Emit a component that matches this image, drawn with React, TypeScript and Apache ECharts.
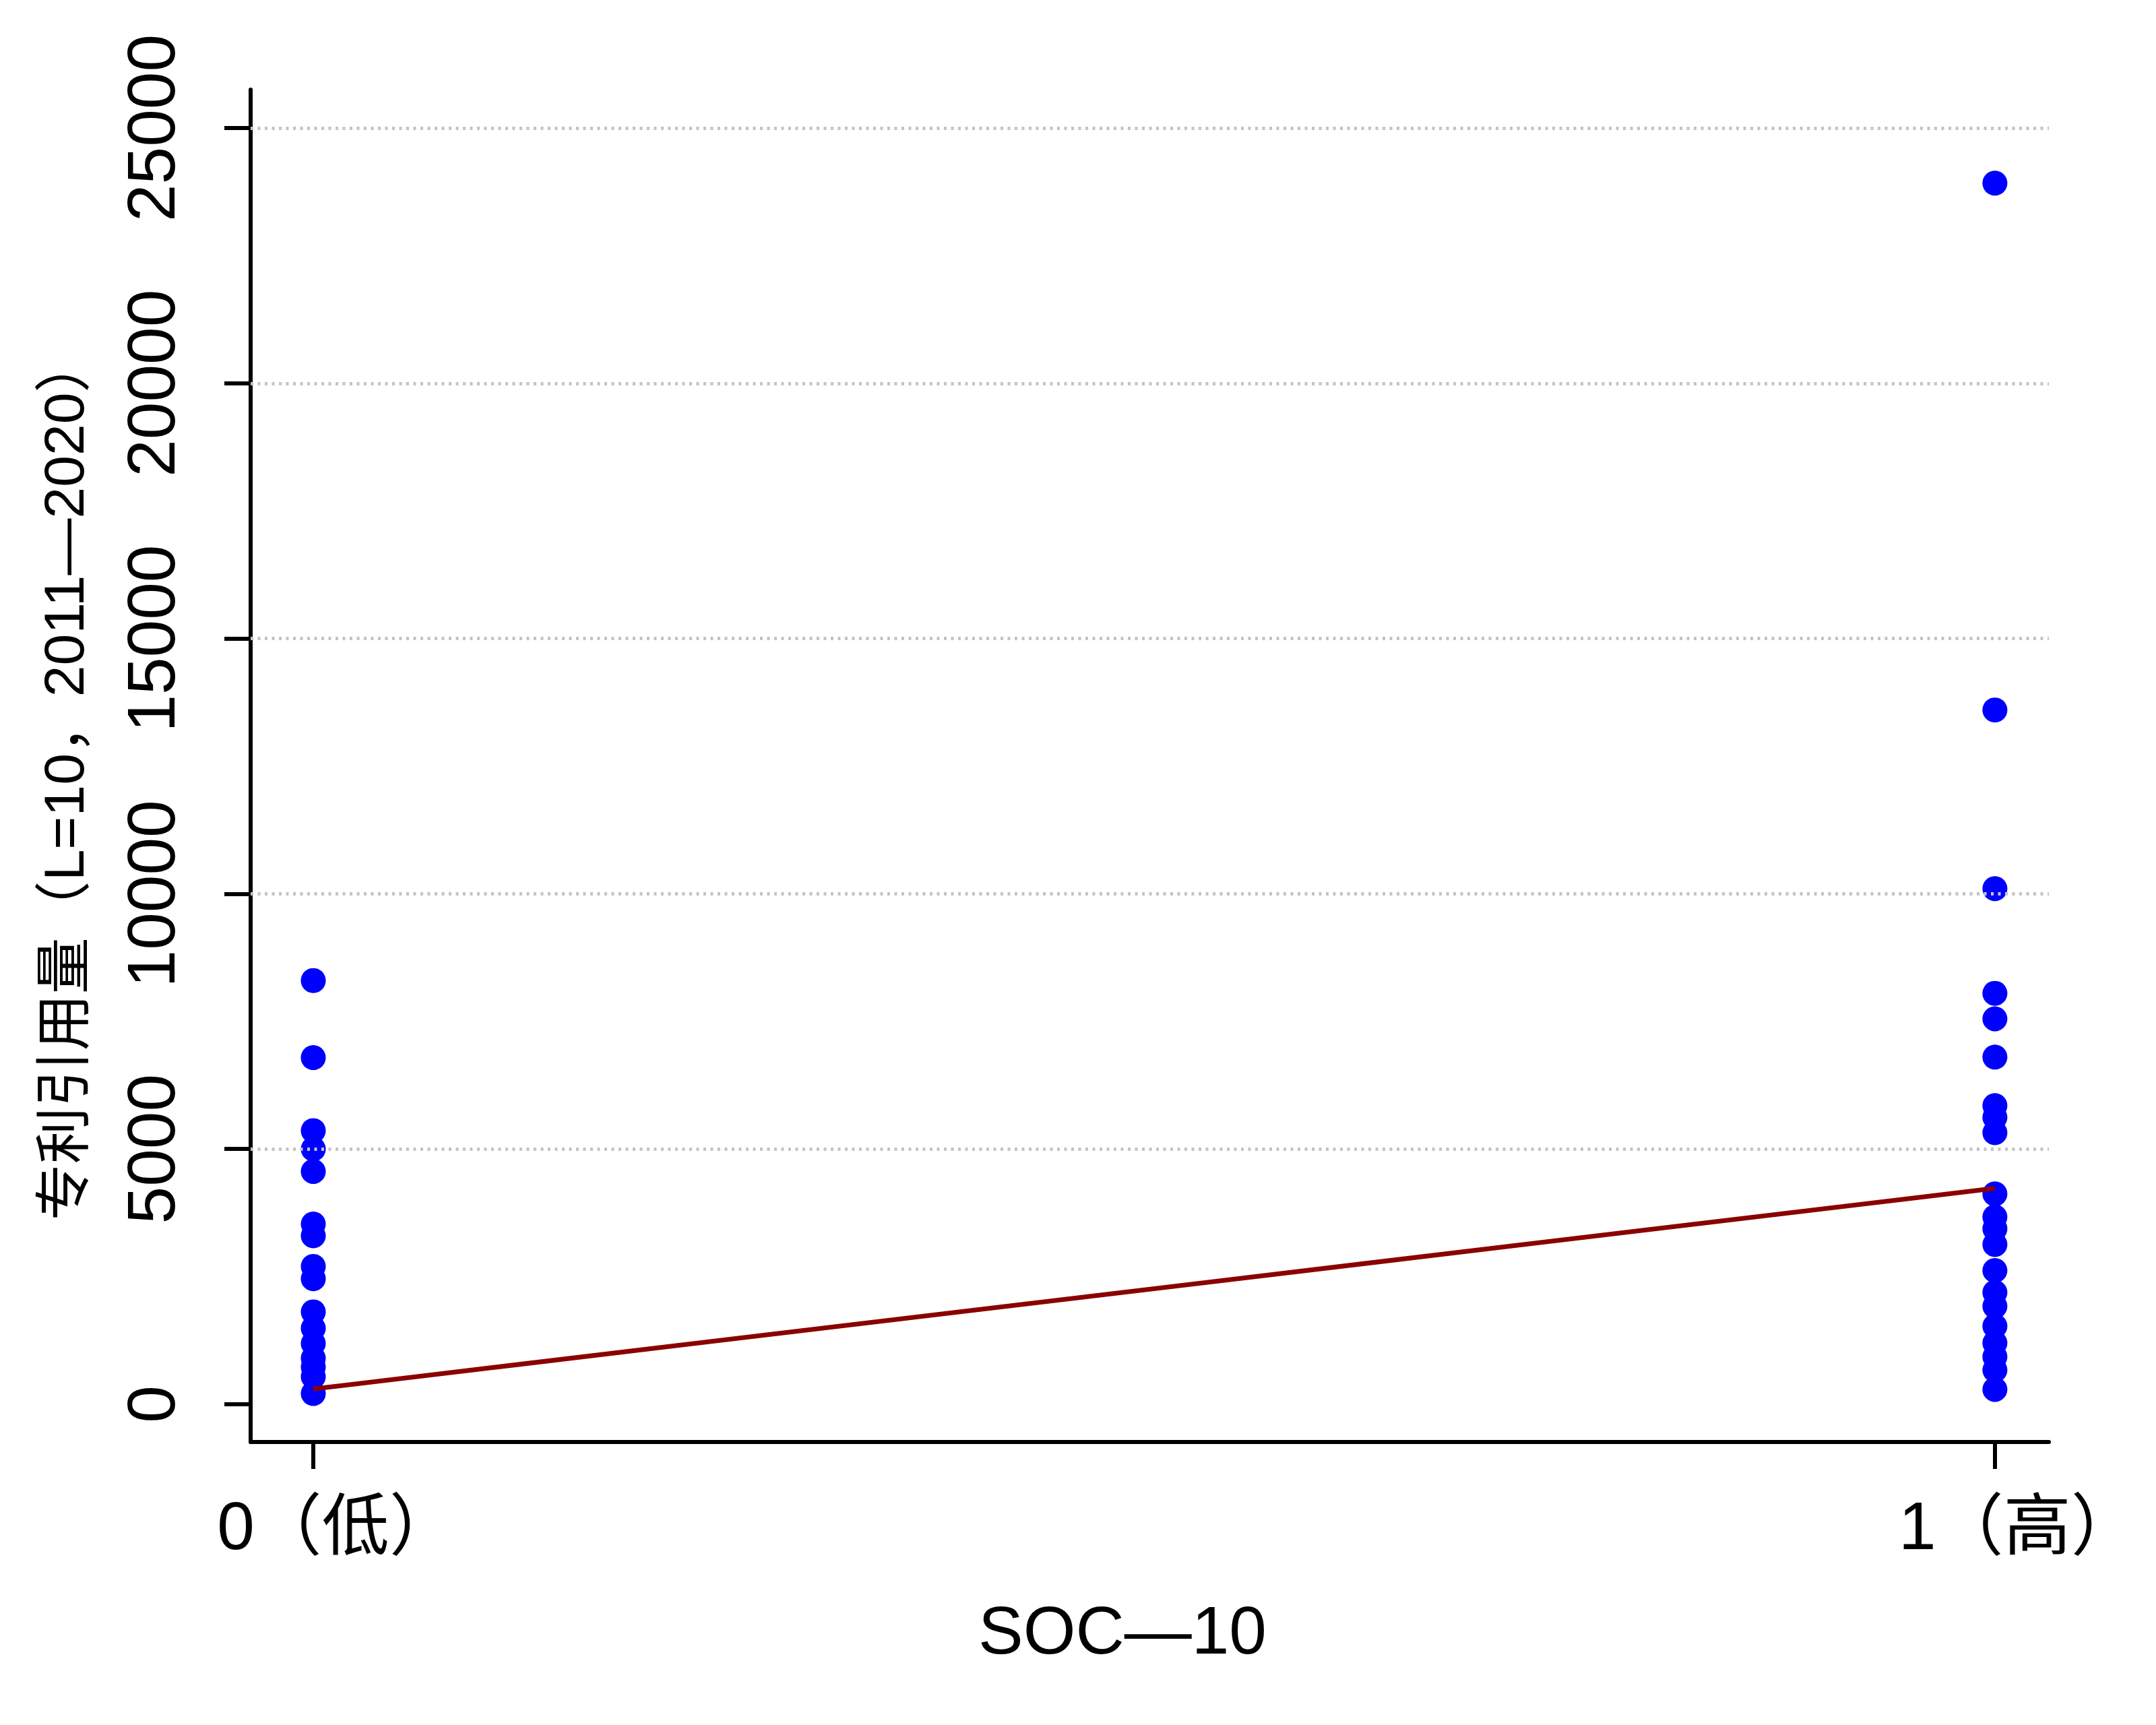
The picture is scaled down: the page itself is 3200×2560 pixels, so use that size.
import React, { useEffect, useRef } from "react";
import * as echarts from "echarts";

// ---- data ----
const xCategories = ["0（低）", "1（高）"];
const xTickValues = [0, 1];
const yTickValues = [0, 5000, 10000, 15000, 20000, 25000];
const gridValues = [5000, 10000, 15000, 20000, 25000];
const lowSocValues = [8300, 6790, 5360, 5000, 4560, 3530, 3300, 2700, 2460, 1810, 1490, 1190, 900, 730, 540, 210];
const highSocValues = [23920, 13600, 10100, 8050, 7550, 6800, 5850, 5620, 5320, 4120, 3670, 3440, 3130, 2620, 2190, 1920, 1530, 1200, 930, 670, 290];
const fitLine = [300, 4230];
const xAxisTitle = "SOC—10";
const yAxisTitle = "专利引用量（L=10，2011—2020）";

const FONT = "'Liberation Sans', Arial, 'Noto Sans CJK SC', sans-serif";

export default function App() {
  const ref = useRef<HTMLDivElement>(null);
  useEffect(() => {
    document.body.style.margin = "0";
    const chart = echarts.init(ref.current!, null, { renderer: "svg" });
    const points: number[][] = [];
    lowSocValues.forEach((v) => points.push([0, v]));
    highSocValues.forEach((v) => points.push([1, v]));
    chart.setOption({
      animation: false,
      backgroundColor: "#ffffff",
      grid: { left: 372, top: 133, width: 2669, height: 2007, containLabel: false },
      xAxis: {
        type: "value",
        min: -0.03726,
        max: 1.0321,
        axisLine: { show: true, onZero: false, lineStyle: { color: "#000", width: 6 } },
        axisTick: { show: true, customValues: xTickValues, length: 40, lineStyle: { color: "#000", width: 6 } },
        axisLabel: {
          show: true,
          customValues: xTickValues,
          formatter: (v: number) => xCategories[Math.round(v)] ?? "",
          fontSize: 100,
          fontFamily: FONT,
          color: "#000",
          margin: 74,
          padding: [0, 0, 0, 70],
        },
        splitLine: { show: false },
      },
      yAxis: {
        type: "value",
        min: -739,
        max: 25752,
        axisLine: { show: true, onZero: false, lineStyle: { color: "#000", width: 6 } },
        axisTick: { show: true, customValues: yTickValues, length: 39, lineStyle: { color: "#000", width: 6 } },
        axisLabel: {
          show: true,
          customValues: yTickValues,
          formatter: (v: number) => String(Math.round(v)),
          rotate: 90,
          fontSize: 100,
          fontFamily: FONT,
          color: "#000",
          margin: 98,
        },
        splitLine: { show: false },
      },
      graphic: [
        {
          type: "text",
          x: 1666,
          y: 2419,
          style: { text: xAxisTitle, fontSize: 100, fontFamily: FONT, fill: "#000", align: "center", verticalAlign: "middle" },
        },
        {
          type: "text",
          x: 95,
          y: 1155,
          rotation: Math.PI / 2,
          style: { text: yAxisTitle, fontSize: 84, fontFamily: FONT, fill: "#000", align: "center", verticalAlign: "middle" },
        },
      ],
      series: [
        {
          type: "line",
          data: [],
          z: 1,
          markLine: {
            silent: true,
            symbol: ["none", "none"],
            label: { show: false },
            lineStyle: { color: "#c4c4c4", type: [4, 6.5], width: 5 },
            data: gridValues.map((v) => ({ yAxis: v })),
          },
        },
        {
          type: "scatter",
          z: 3,
          symbol: "circle",
          symbolSize: 37,
          itemStyle: { color: "#0000ff", opacity: 1 },
          data: points,
        },
        {
          type: "line",
          z: 4,
          symbol: "none",
          lineStyle: { color: "#8b0000", width: 7 },
          data: [
            [0, fitLine[0]],
            [1, fitLine[1]],
          ],
        },
      ],
    });
    return () => chart.dispose();
  }, []);
  return <div ref={ref} style={{ width: 3200, height: 2560 }} />;
}
